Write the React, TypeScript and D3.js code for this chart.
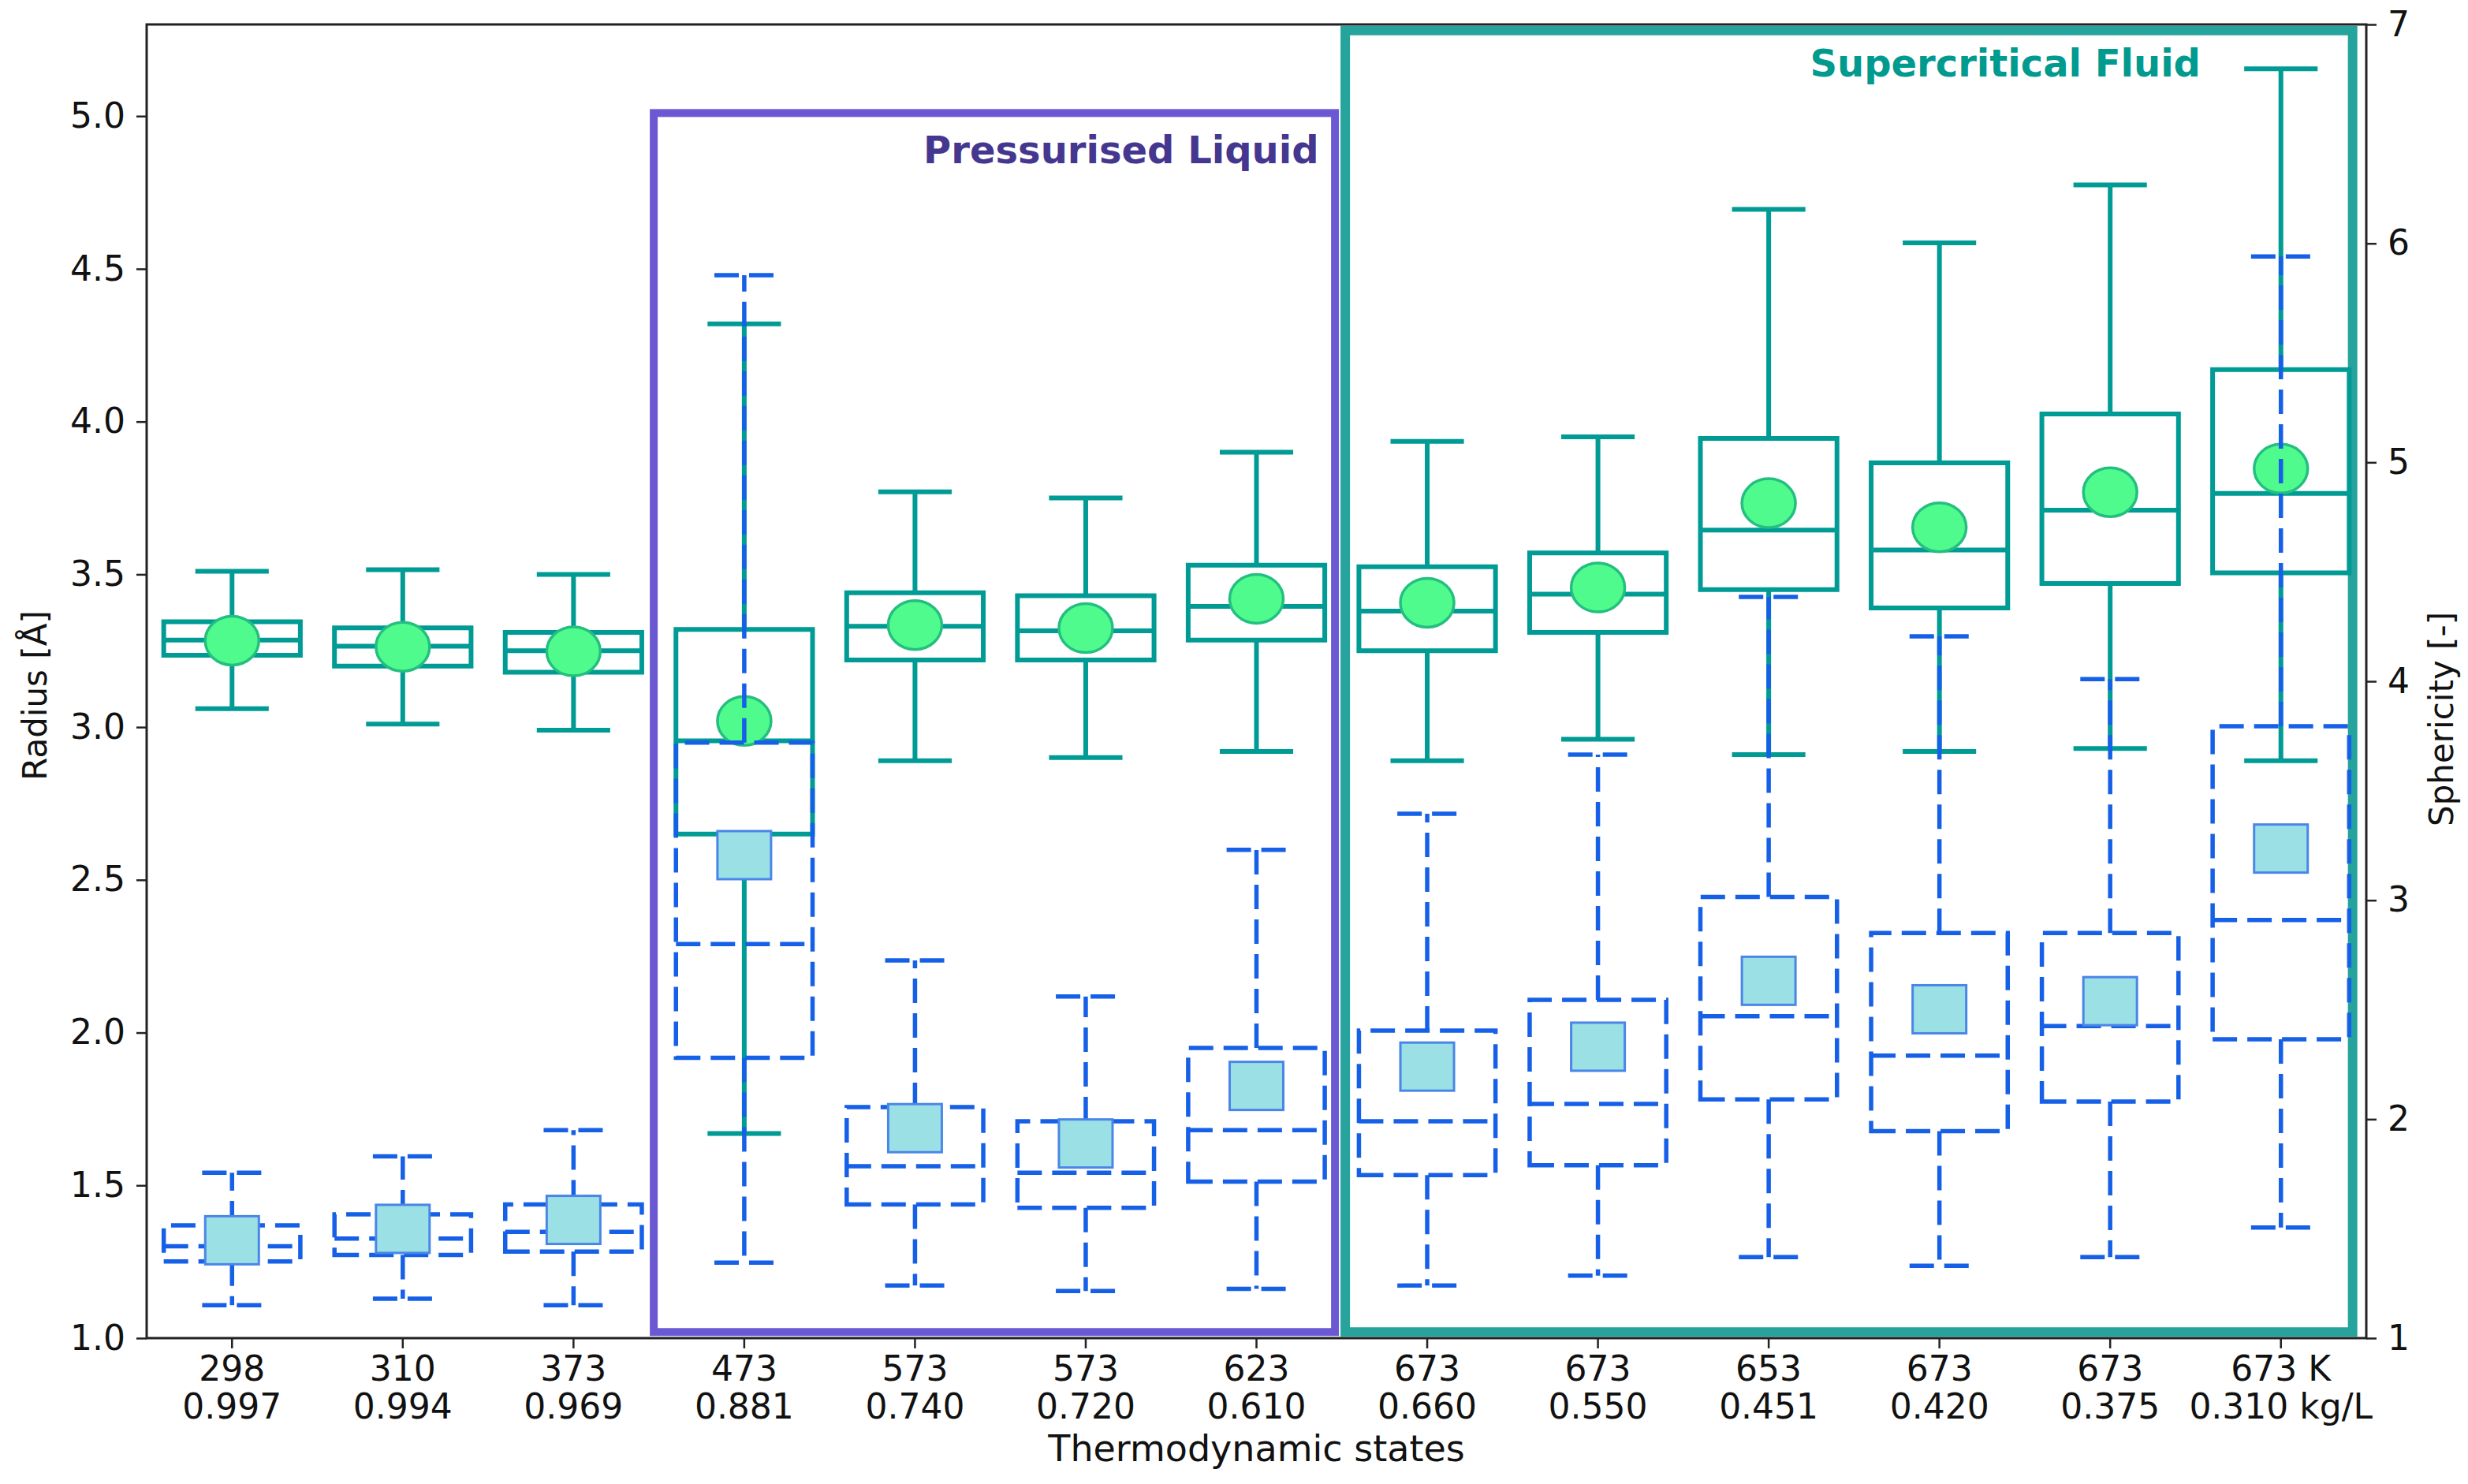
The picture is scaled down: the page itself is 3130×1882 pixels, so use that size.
import { useEffect, useRef } from "react"
import * as d3 from "d3"

// thermodynamic states (temperature / density)
const temperatures = ["298", "310", "373", "473", "573", "573", "623", "673", "673", "653", "673", "673", "673 K"]
const densities = ["0.997", "0.994", "0.969", "0.881", "0.740", "0.720", "0.610", "0.660", "0.550", "0.451", "0.420", "0.375", "0.310 kg/L"]

// Radius [Å] box statistics (left axis)
const radiusLow = [3.06, 3.01, 2.99, 1.67, 2.89, 2.90, 2.92, 2.89, 2.96, 2.91, 2.92, 2.93, 2.89]
const radiusQ1 = [3.235, 3.2, 3.18, 2.65, 3.22, 3.22, 3.285, 3.25, 3.31, 3.45, 3.39, 3.47, 3.505]
const radiusMedian = [3.285, 3.265, 3.25, 2.955, 3.33, 3.315, 3.395, 3.38, 3.435, 3.645, 3.58, 3.71, 3.765]
const radiusQ3 = [3.345, 3.325, 3.31, 3.32, 3.44, 3.43, 3.53, 3.525, 3.57, 3.945, 3.865, 4.025, 4.17]
const radiusHigh = [3.51, 3.515, 3.5, 4.32, 3.77, 3.75, 3.9, 3.935, 3.95, 4.695, 4.585, 4.775, 5.155]
const radiusMean = [3.283, 3.263, 3.248, 3.02, 3.334, 3.324, 3.42, 3.407, 3.457, 3.733, 3.654, 3.769, 3.846]

// Sphericity [-] box statistics (right axis)
const sphLow = [1.15, 1.18, 1.15, 1.345, 1.24, 1.215, 1.225, 1.24, 1.285, 1.37, 1.33, 1.37, 1.505]
const sphQ1 = [1.35, 1.38, 1.395, 2.28, 1.61, 1.595, 1.715, 1.745, 1.79, 2.09, 1.945, 2.08, 2.365]
const sphMedian = [1.42, 1.455, 1.485, 2.80, 1.785, 1.755, 1.95, 1.99, 2.07, 2.47, 2.29, 2.425, 2.91]
const sphQ3 = [1.515, 1.565, 1.61, 3.72, 2.055, 1.99, 2.325, 2.405, 2.545, 3.015, 2.85, 2.85, 3.795]
const sphHigh = [1.755, 1.83, 1.95, 5.855, 2.725, 2.56, 3.23, 3.395, 3.665, 4.385, 4.205, 4.01, 5.94]
const sphMean = [1.447, 1.499, 1.54, 3.206, 1.959, 1.889, 2.152, 2.24, 2.331, 2.632, 2.502, 2.539, 3.236]

// phase regions
const phaseNames = ["Pressurised Liquid", "Supercritical Fluid"]
const phaseFrom = [3.47, 7.52]
const phaseTo = [7.46, 13.42]
const phaseTop = [5.01, 5.28]
const phaseBottom = [1.02, 1.02]

const leftTicks = [1.0, 1.5, 2.0, 2.5, 3.0, 3.5, 4.0, 4.5, 5.0]
const rightTicks = [1, 2, 3, 4, 5, 6, 7]

const FONT = "DejaVu Sans, sans-serif"

export default function App() {
  const svgRef = useRef<SVGSVGElement>(null)

  useEffect(() => {
    document.body.style.margin = "0"
    const svg = d3.select(svgRef.current)
    svg.selectAll("*").remove()

    const width = 3130
    const height = 1882
    const left = 186, right = 3001, top = 31, bottom = 1697

    svg.attr("width", width).attr("height", height)
    svg.append("rect").attr("width", width).attr("height", height).attr("fill", "white")

    const x = d3.scaleLinear().domain([0.5, temperatures.length + 0.5]).range([left, right])
    const yR = d3.scaleLinear().domain([1.0, 5.3]).range([bottom, top])
    const yS = d3.scaleLinear().domain([1, 7]).range([bottom, top])

    // phase frames
    const phaseStyle = [
      { edge: "#6b58d3", text: "#45378f", width: 10, labelX: 7.365, labelY: 4.845 },
      { edge: "#25a39c", text: "#009a8e", width: 12, labelX: 12.53, labelY: 5.13 },
    ]
    phaseNames.forEach((name, k) => {
      const st = phaseStyle[k]
      svg.append("rect")
        .attr("x", x(phaseFrom[k]))
        .attr("y", yR(phaseTop[k]))
        .attr("width", x(phaseTo[k]) - x(phaseFrom[k]))
        .attr("height", yR(phaseBottom[k]) - yR(phaseTop[k]))
        .attr("fill", "none")
        .attr("stroke", st.edge)
        .attr("stroke-width", st.width)
      svg.append("text")
        .attr("x", x(st.labelX))
        .attr("y", yR(st.labelY))
        .attr("text-anchor", "end")
        .attr("font-family", FONT)
        .attr("font-weight", "bold")
        .attr("font-size", 48)
        .attr("fill", st.text)
        .text(name)
    })

    type Stat = { i: number; low: number; q1: number; med: number; q3: number; high: number; mean: number }
    const radius: Stat[] = temperatures.map((_, i) => ({
      i: i + 1, low: radiusLow[i], q1: radiusQ1[i], med: radiusMedian[i], q3: radiusQ3[i], high: radiusHigh[i], mean: radiusMean[i],
    }))
    const sph: Stat[] = temperatures.map((_, i) => ({
      i: i + 1, low: sphLow[i], q1: sphQ1[i], med: sphMedian[i], q3: sphQ3[i], high: sphHigh[i], mean: sphMean[i],
    }))

    const drawBoxes = (data: Stat[], y: d3.ScaleLinear<number, number>, color: string, lw: number,
      dash: string | null, capHalf: number) => {
      const g = svg.append("g")
        .attr("fill", "none")
        .attr("stroke", color)
        .attr("stroke-width", lw)
      if (dash) g.attr("stroke-dasharray", dash)
      const half = 0.4
      data.forEach(d => {
        // whiskers
        g.append("line").attr("x1", x(d.i)).attr("x2", x(d.i)).attr("y1", y(d.q1)).attr("y2", y(d.low))
        g.append("line").attr("x1", x(d.i)).attr("x2", x(d.i)).attr("y1", y(d.q3)).attr("y2", y(d.high))
        // caps
        g.append("line").attr("x1", x(d.i - capHalf)).attr("x2", x(d.i + capHalf)).attr("y1", y(d.low)).attr("y2", y(d.low))
        g.append("line").attr("x1", x(d.i - capHalf)).attr("x2", x(d.i + capHalf)).attr("y1", y(d.high)).attr("y2", y(d.high))
        // box
        const p = d3.path()
        p.moveTo(x(d.i - half), y(d.q1))
        p.lineTo(x(d.i + half), y(d.q1))
        p.lineTo(x(d.i + half), y(d.q3))
        p.lineTo(x(d.i - half), y(d.q3))
        p.closePath()
        g.append("path").attr("d", p.toString())
        // median
        g.append("line").attr("x1", x(d.i - half)).attr("x2", x(d.i + half)).attr("y1", y(d.med)).attr("y2", y(d.med))
      })
    }

    // radius (teal, solid) with circle means
    drawBoxes(radius, yR, "#009b94", 6, null, 0.215)
    svg.append("g").selectAll("ellipse")
      .data(radius)
      .enter()
      .append("ellipse")
      .attr("cx", d => x(d.i))
      .attr("cy", d => yR(d.mean))
      .attr("rx", 34)
      .attr("ry", 31)
      .attr("fill", "#50fb8d")
      .attr("stroke", "#24bf80")
      .attr("stroke-width", 3.5)

    // sphericity (blue, dashed) with square means
    drawBoxes(sph, yS, "#1660e8", 5.5, "31,13", 0.175)
    svg.append("g").selectAll("rect")
      .data(sph)
      .enter()
      .append("rect")
      .attr("x", d => x(d.i) - 34)
      .attr("y", d => yS(d.mean) - 30.5)
      .attr("width", 68)
      .attr("height", 61)
      .attr("fill", "#9be0e4")
      .attr("stroke", "#4a86e8")
      .attr("stroke-width", 3)

    // frame
    svg.append("rect")
      .attr("x", left).attr("y", top)
      .attr("width", right - left).attr("height", bottom - top)
      .attr("fill", "none").attr("stroke", "#222").attr("stroke-width", 3)

    // left axis
    const axL = svg.append("g")
      .attr("transform", `translate(${left},0)`)
      .call(d3.axisLeft(yR).tickValues(leftTicks).tickFormat(d3.format(".1f")).tickSize(13).tickPadding(14))
    axL.select(".domain").remove()
    axL.attr("font-size", 44).attr("font-family", FONT)
    axL.selectAll("line").attr("stroke", "#222").attr("stroke-width", 2.5)
    axL.selectAll("text").attr("fill", "#111")

    // right axis
    const axR = svg.append("g")
      .attr("transform", `translate(${right},0)`)
      .call(d3.axisRight(yS).tickValues(rightTicks).tickFormat(d3.format("d")).tickSize(13).tickPadding(14))
    axR.select(".domain").remove()
    axR.attr("font-size", 44).attr("font-family", FONT)
    axR.selectAll("line").attr("stroke", "#222").attr("stroke-width", 2.5)
    axR.selectAll("text").attr("fill", "#111")

    // bottom ticks with two-line labels
    const axB = svg.append("g")
    temperatures.forEach((t, i) => {
      const cx = x(i + 1)
      axB.append("line")
        .attr("x1", cx).attr("x2", cx)
        .attr("y1", bottom).attr("y2", bottom + 13)
        .attr("stroke", "#222").attr("stroke-width", 2.5)
      const txt = axB.append("text")
        .attr("x", cx)
        .attr("y", bottom + 54)
        .attr("text-anchor", "middle")
        .attr("font-family", FONT)
        .attr("font-size", 44)
        .attr("fill", "#111")
      txt.append("tspan").attr("x", cx).text(t)
      txt.append("tspan").attr("x", cx).attr("dy", 48).text(densities[i])
    })

    // axis titles
    svg.append("text")
      .attr("x", (left + right) / 2)
      .attr("y", 1853)
      .attr("text-anchor", "middle")
      .attr("font-family", FONT)
      .attr("font-size", 46)
      .attr("fill", "#111")
      .text("Thermodynamic states")

    svg.append("text")
      .attr("transform", `translate(44,${(top + bottom) / 2 + 18}) rotate(-90)`)
      .attr("text-anchor", "middle")
      .attr("dominant-baseline", "central")
      .attr("font-family", FONT)
      .attr("font-size", 42)
      .attr("fill", "#111")
      .text("Radius [Å]")

    svg.append("text")
      .attr("transform", `translate(3096,${(top + bottom) / 2 + 48}) rotate(-90)`)
      .attr("text-anchor", "middle")
      .attr("dominant-baseline", "central")
      .attr("font-family", FONT)
      .attr("font-size", 42)
      .attr("fill", "#111")
      .text("Sphericity [-]")
  }, [])

  return (
    <div style={{ position: "absolute", left: 0, top: 0 }}>
      <svg ref={svgRef} style={{ display: "block" }}></svg>
    </div>
  )
}
